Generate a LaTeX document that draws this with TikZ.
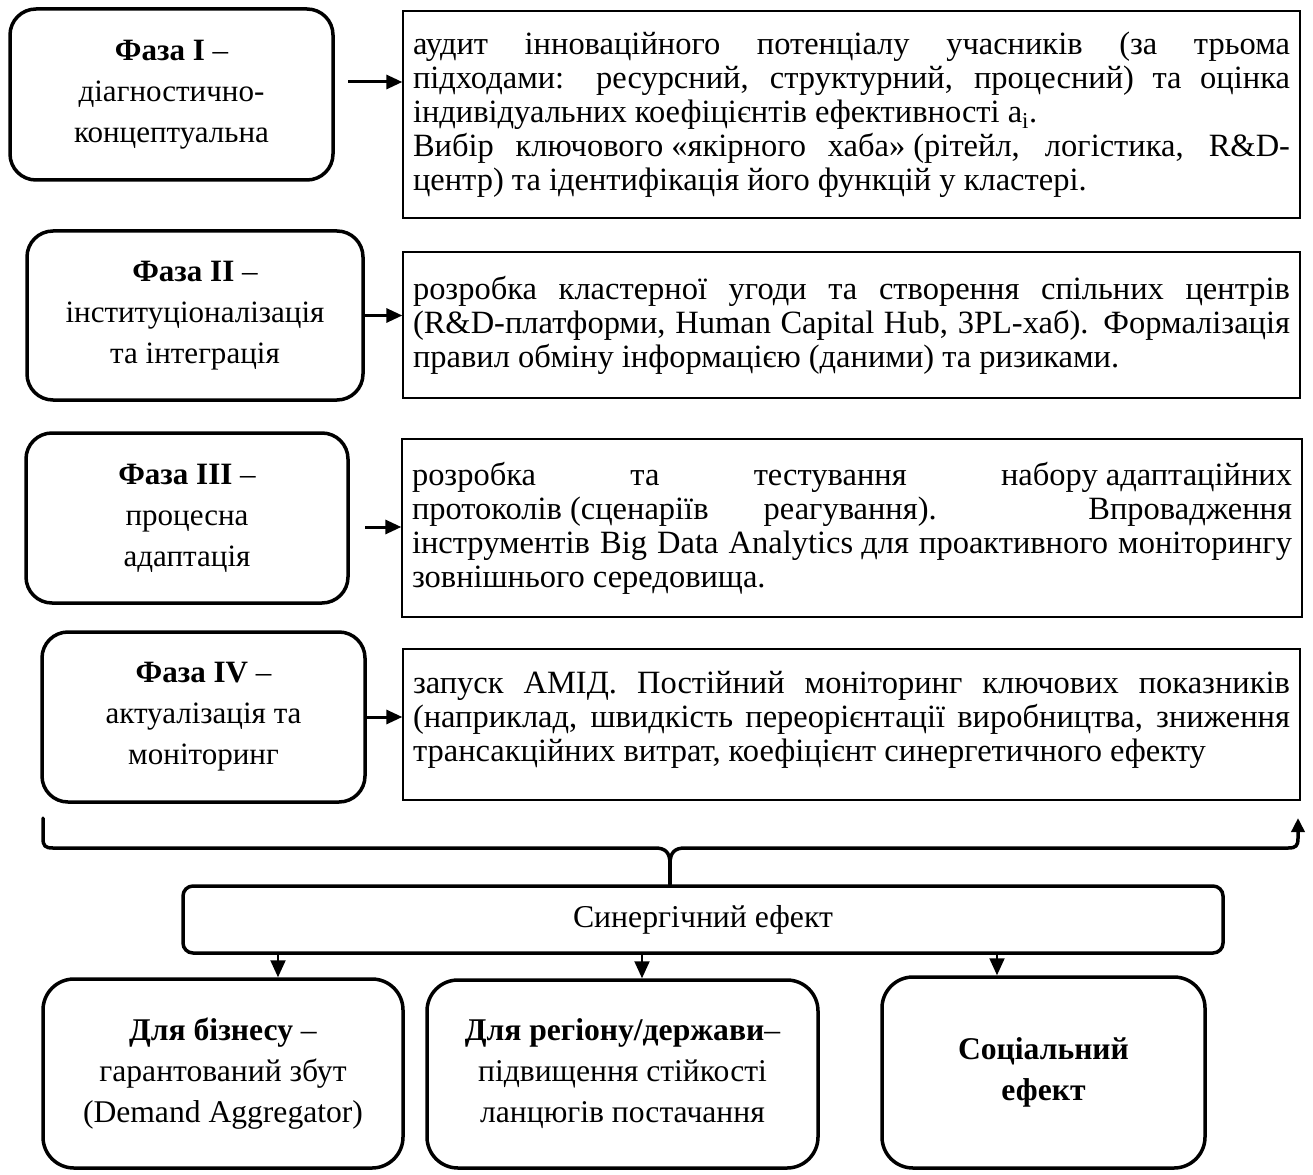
\documentclass[tikz,border=0pt]{standalone}
\usepackage{fontspec}
\setmainfont{Liberation Serif}
\usetikzlibrary{arrows.meta}

% font sizes are derived from the width a reference phrase must take
\newlength\calw
\newcommand{\calibrate}[3]{%
  \settowidth\calw{\fontsize{10pt}{12pt}\selectfont #3}%
  \pgfmathsetmacro#1{10*#2/\calw}%
  \global\let#1#1}
\AtBeginDocument{%
  \calibrate{\bodysize}{870}{інструментів Big Data Analytics для проактивного моніторингу}%
  \calibrate{\phasesize}{195}{концептуальна}%
  \calibrate{\ressize}{280}{(Demand Aggregator)}%
  \calibrate{\synsize}{260}{Синергічний ефект}}
\newcommand{\bodyfont}{\fontsize{\bodysize pt}{34pt}\selectfont}
\newcommand{\phasefont}{\fontsize{\phasesize pt}{41pt}\selectfont}
\newcommand{\resfont}{\fontsize{\ressize pt}{41pt}\selectfont}
\newcommand{\synfont}{\fontsize{\synsize pt}{34pt}\selectfont}
% one justified line of a description
\newcommand{\jline}[1]{\makebox[\linewidth][s]{#1}\\}

\tikzset{
  x=1pt, y=1pt,
  phasebox/.style={draw, line width=3.5pt, rounded corners=26pt, align=center,
    inner sep=0pt, font=\phasefont},
  descbox/.style={draw, line width=1.3pt, inner sep=0pt, font=\bodyfont},
  resultbox/.style={draw, line width=3.5pt, rounded corners=31pt, align=center,
    inner sep=0pt, font=\resfont},
  synbox/.style={draw, line width=3.5pt, rounded corners=10pt, inner sep=0pt, font=\synfont},
  phasearrow/.style={line width=3pt, -{Triangle[length=16pt, width=14pt]}},
  downarrow/.style={line width=2pt, -{Triangle[length=17pt, width=15pt]}},
  bracepath/.style={line width=3.5pt, line cap=round, line join=round},
}

\begin{document}
\begin{tikzpicture}
\useasboundingbox (0,0) rectangle (1313,-1174);

% ---------- phases ----------
\node[phasebox, minimum width=323pt, minimum height=171pt] (p1) at (171.5,-94.5)
  {\textbf{Фаза I} –\\ діагностично-\\ концептуальна};
\node[phasebox, minimum width=336pt, minimum height=169pt] (p2) at (195,-315.5)
  {\textbf{Фаза II} –\\ інституціоналізація\\ та інтеграція};
\node[phasebox, minimum width=322pt, minimum height=170pt] (p3) at (187,-518)
  {\textbf{Фаза III} –\\ процесна\\ адаптація};
\node[phasebox, minimum width=323pt, minimum height=170pt] (p4) at (203.5,-717)
  {\textbf{Фаза IV} –\\ актуалізація та\\ моніторинг};

% ---------- descriptions ----------
\node[descbox, minimum width=897pt, minimum height=207pt] (t1) at (851.5,-114.5)
  {\parbox{877pt}{%
   \jline{аудит інноваційного потенціалу учасників (за трьома}%
   \jline{підходами: ресурсний, структурний, процесний) та оцінка}%
   індивідуальних коефіцієнтів ефективності a\textsubscript{i}.\par
   \jline{Вибір ключового\hspace{0.25em}«якірного хаба»\hspace{0.25em}(рітейл, логістика, R\&D-}%
   центр) та ідентифікація його функцій у кластері.}};
\node[descbox, minimum width=897pt, minimum height=146pt] (t2) at (851.5,-325)
  {\parbox{877pt}{%
   \jline{розробка кластерної угоди та створення спільних центрів}%
   \jline{(R\&D-платформи, Human Capital Hub, 3PL-хаб). Формалізація}%
   правил обміну інформацією (даними) та ризиками.}};
\node[descbox, minimum width=900pt, minimum height=178pt] (t3) at (852,-528)
  {\parbox{880pt}{%
   \jline{розробка та тестування набору\hspace{0.25em}адаптаційних}%
   \jline{протоколів\hspace{0.25em}(сценаріїв реагування). Впровадження}%
   \jline{інструментів Big Data Analytics\hspace{0.25em}для проактивного моніторингу}%
   зовнішнього середовища.}};
\node[descbox, minimum width=897pt, minimum height=151pt] (t4) at (851.5,-724.5)
  {\parbox{877pt}{%
   \jline{запуск АМІД. Постійний моніторинг ключових показників}%
   \jline{(наприклад, швидкість переорієнтації виробництва, зниження}%
   трансакційних витрат, коефіцієнт синергетичного ефекту\par\vspace{9pt}}};

% ---------- phase arrows ----------
\coordinate (a1) at (348,-82);
\coordinate (a3) at (365,-527);
\draw[phasearrow] (a1) -- (a1 -| t1.west);
\draw[phasearrow] (p2.east) -- (p2.east -| t2.west);
\draw[phasearrow] (a3) -- (a3 -| t3.west);
\draw[phasearrow] (p4.east) -- (p4.east -| t4.west);

% ---------- synergy ----------
\node[synbox, minimum width=1040pt, minimum height=67pt] (syn) at (703,-919.5)
  {Синергічний ефект};

% brace gathering the phases into the synergy box
\coordinate (bl) at (43,-818);
\coordinate (bm) at (670,-864);
\coordinate (br) at (1298,-818);
\draw[bracepath] (bl) -- (43,-838) .. controls (43,-846) and (45,-848) .. (53,-848)
  -- (655,-848) .. controls (665,-848) and (670,-852) .. (bm);
\draw[bracepath] (bm) -- (bm |- syn.north);
\draw[bracepath, -{Triangle[length=14pt, width=13pt]}] (bm)
  .. controls (670,-852) and (675,-848) .. (685,-848)
  -- (1288,-848) .. controls (1296,-848) and (1298,-846) .. (1298,-838) -- (br);

% ---------- results ----------
\node[resultbox, minimum width=360pt, minimum height=189pt] (b1) at (223,-1073.5)
  {\textbf{Для бізнесу} –\\ гарантований збут\\ (Demand Aggregator)};
\node[resultbox, minimum width=391pt, minimum height=188pt] (b2) at (622.5,-1074)
  {\textbf{Для регіону/держави}–\\ підвищення стійкості\\ ланцюгів постачання};
\node[resultbox, minimum width=323pt, minimum height=191pt] (b3) at (1043.5,-1072.5)
  {\textbf{Соціальний}\\ \textbf{ефект}};

\coordinate (d1) at (278,0);
\coordinate (d2) at (642,0);
\coordinate (d3) at (997,0);
\draw[downarrow] (syn.south -| d1) -- (b1.north -| d1);
\draw[downarrow] (syn.south -| d2) -- (b2.north -| d2);
\draw[downarrow] (syn.south -| d3) -- (b3.north -| d3);
\end{tikzpicture}
\end{document}
